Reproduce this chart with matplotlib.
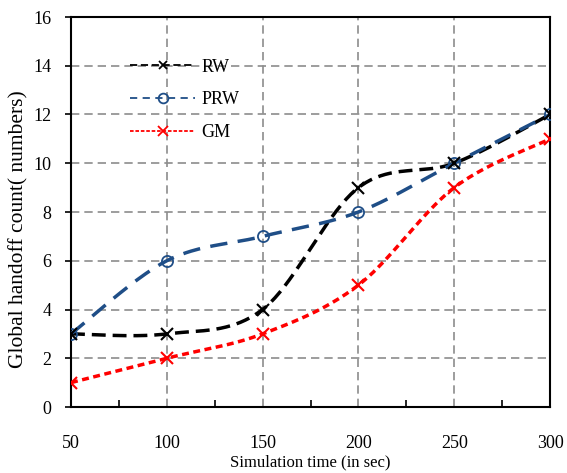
import numpy as np
import matplotlib
matplotlib.use("Agg")
import matplotlib.pyplot as plt
from matplotlib.ticker import MultipleLocator

plt.rcParams['font.family'] = ['Liberation Serif', 'DejaVu Serif']

# simulation times and handoff counts per mobility model
sim_time = [50, 100, 150, 200, 250, 300]
rw = [3, 3, 4, 9, 10, 12]
prw = [3, 6, 7, 8, 10, 12]
gm = [1, 2, 3, 5, 9, 11]


def smooth(x, y, n=40):
    # Catmull-Rom style curve through the points (like spreadsheet "smoothed line")
    x = np.asarray(x, float)
    y = np.asarray(y, float)
    px = np.concatenate([[x[0]], x, [x[-1]]])
    py = np.concatenate([[y[0]], y, [y[-1]]])
    xs, ys = [], []
    for i in range(1, len(px) - 2):
        p0 = np.array([px[i - 1], py[i - 1]])
        p1 = np.array([px[i], py[i]])
        p2 = np.array([px[i + 1], py[i + 1]])
        p3 = np.array([px[i + 2], py[i + 2]])
        c1 = p1 + (p2 - p0) / 6.0
        c2 = p2 - (p3 - p1) / 6.0
        t = np.linspace(0, 1, n)[:, None]
        pts = ((1 - t) ** 3) * p1 + 3 * ((1 - t) ** 2) * t * c1 + 3 * (1 - t) * t ** 2 * c2 + t ** 3 * p2
        xs.extend(pts[:, 0])
        ys.extend(pts[:, 1])
    return np.array(xs), np.array(ys)


fig = plt.figure(figsize=(5.67, 4.73), dpi=100)
ax = fig.add_axes([71 / 567, 66 / 473, 479 / 567, 390 / 473])

blue = '#1f4e87'

sx, sy = smooth(sim_time, rw)
ax.plot(sx, sy, color='black', lw=2.5, dashes=(4, 2), zorder=3)
ax.plot(sim_time, rw, ls='none', marker='x', ms=8, color='black', mew=1.5, zorder=5)

sx, sy = smooth(sim_time, prw)
ax.plot(sx, sy, color=blue, lw=2.5, dashes=(5, 3), zorder=4)
ax.plot(sim_time, prw, ls='none', marker='o', ms=8, mfc='none', mec=blue, mew=1.3, zorder=4)

sx, sy = smooth(sim_time, gm)
ax.plot(sx, sy, color='red', lw=2.5, dashes=(2, 1.3), zorder=3)
ax.plot(sim_time, gm, ls='none', marker='x', ms=9, color='red', mew=1.5, zorder=4)

# legend handles
h_rw, = ax.plot([], [], color='black', lw=1.3, dashes=(4, 2), marker='x', ms=6, mew=1.3)
h_prw, = ax.plot([], [], color=blue, lw=1.3, dashes=(4, 3), marker='o', ms=7, mfc='none', mew=1.3)
h_gm, = ax.plot([], [], color='red', lw=1.3, dashes=(2, 1), marker='x', ms=7, mew=1.3)
ax.legend([h_rw, h_prw, h_gm], ['RW', 'PRW', 'GM'], loc='upper left',
          bbox_to_anchor=(0.09, 0.935), frameon=False, fontsize=13,
          handlelength=3.6, labelspacing=0.87, handletextpad=0.35)

ax.set_xlim(50, 300)
ax.set_ylim(0, 16)
ax.xaxis.set_major_locator(MultipleLocator(50))
ax.xaxis.set_minor_locator(MultipleLocator(25))
ax.yaxis.set_major_locator(MultipleLocator(2))

ax.grid(True, which='major', color='#8c8c8c', ls=(0, (5, 3)), lw=1.2)
ax.set_axisbelow(True)

ax.tick_params(axis='x', which='major', length=0, pad=20, labelsize=13)
ax.tick_params(axis='x', which='minor', direction='in', length=5, width=1.2)
ax.tick_params(axis='y', which='major', direction='out', length=4, width=1.2, labelsize=13, pad=10)

for s in ax.spines.values():
    s.set_linewidth(1.5)

ax.set_xlabel('Simulation time (in sec)', fontsize=12, labelpad=2)
ax.set_ylabel('Global handoff count( numbers)', fontsize=15.5)
ax.yaxis.set_label_coords(-0.088, 0.455)

fig.savefig('out.png', dpi=100)
